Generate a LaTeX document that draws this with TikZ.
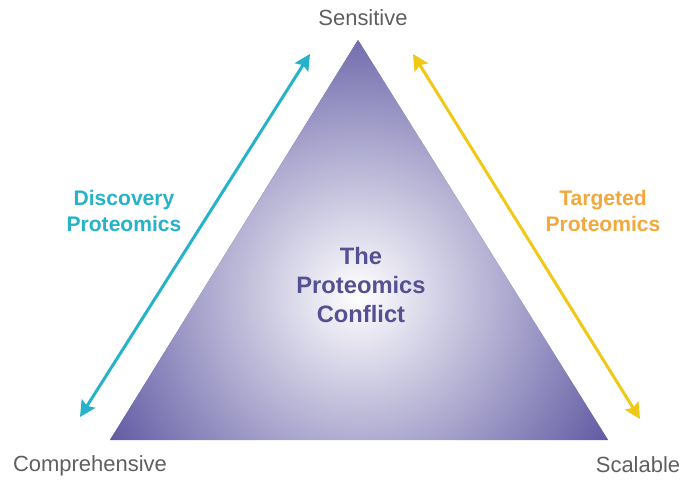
\documentclass[tikz,border=0pt]{standalone}
\usepackage{fontspec}
\setmainfont{Liberation Sans}
\usetikzlibrary{arrows.meta}
\definecolor{tripurple}{RGB}{96,89,162}
\definecolor{labelgray}{RGB}{95,95,95}
\definecolor{discoverycyan}{RGB}{38,178,200}
\definecolor{targetyellow}{RGB}{242,200,24}
\definecolor{targetorange}{RGB}{242,168,60}
\definecolor{conflictpurple}{RGB}{85,80,145}
\begin{document}
\begin{tikzpicture}[x=0.02cm,y=-0.02cm,
    cornerlabel/.style={text=labelgray,font=\fontsize{12.5}{15}\selectfont},
    sidelabel/.style={font=\bfseries\fontsize{12}{14.8}\selectfont,align=center},
    bothways/.style={{Stealth[length=9pt,width=9pt,inset=1.5pt]}-{Stealth[length=9pt,width=9pt,inset=1.5pt]},line width=1.7pt}]
    \useasboundingbox (0,0) rectangle (684,480);
    % the triangle
    \coordinate (apex) at (358,40);
    \coordinate (baseleft) at (110,440);
    \coordinate (baseright) at (608,440);
    \begin{scope}
        \clip (apex) -- (baseleft) -- (baseright) -- cycle;
        \fill[tripurple] (baseleft) rectangle (608,40);
        \shade[inner color=white,outer color=tripurple] (358,295) circle (5.8cm);
    \end{scope}
    \node[sidelabel,text=conflictpurple,font=\bfseries\fontsize{13.5}{16.5}\selectfont] (conflict) at (361,285) {The\\Proteomics\\Conflict};
    % corners
    \node[cornerlabel] (sensitive) at (363,18) {Sensitive};
    \node[cornerlabel] (comprehensive) at (90,466) {Comprehensive};
    \node[cornerlabel] (scalable) at (638,465) {Scalable};
    % arrows
    \coordinate (discA) at (80,417);
    \coordinate (discB) at (310,54);
    \coordinate (targA) at (413,54);
    \coordinate (targB) at (640,419);
    \draw[bothways,discoverycyan] (discA) -- (discB);
    \draw[bothways,targetyellow] (targA) -- (targB);
    \node[sidelabel,text=discoverycyan] (discovery) at (124,211) {Discovery\\Proteomics};
    \node[sidelabel,text=targetorange] (targeted) at (603,211) {Targeted\\Proteomics};
\end{tikzpicture}
\end{document}
